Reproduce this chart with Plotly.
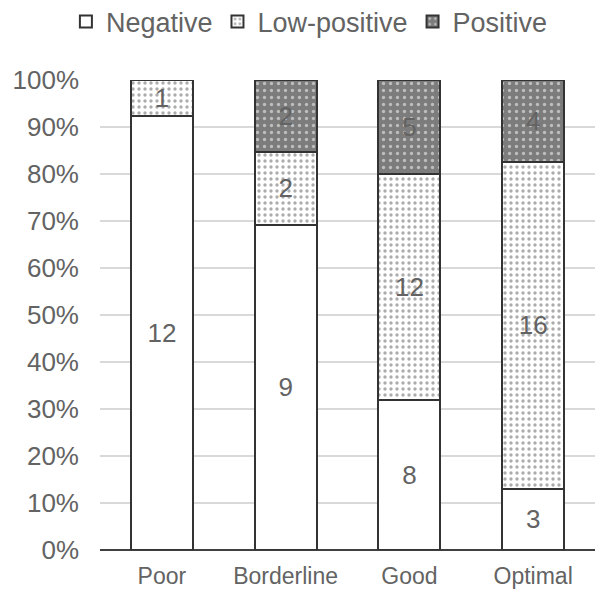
import plotly.graph_objects as go

categories = ["Poor", "Borderline", "Good", "Optimal"]
negative = [12, 9, 8, 3]
low_positive = [1, 2, 12, 16]
positive = [0, 2, 5, 4]

tick_vals = [0, 10, 20, 30, 40, 50, 60, 70, 80, 90, 100]
tick_text = [f"{v}%" for v in tick_vals]

text_color = "#636363"
font_family = "Liberation Sans, Arial, sans-serif"
edge = dict(color="#333333", width=2)


def labels(vals):
    return [str(v) if v > 0 else "" for v in vals]


fig = go.Figure()
fig.add_trace(go.Bar(
    name="Negative", x=categories, y=negative, text=labels(negative),
    marker=dict(color="white", line=edge),
))
fig.add_trace(go.Bar(
    name="Low-positive", x=categories, y=low_positive, text=labels(low_positive),
    marker=dict(color="white", line=edge,
                pattern=dict(shape=".", bgcolor="white", fgcolor="#5a5a5a",
                             size=6, solidity=0.25)),
))
fig.add_trace(go.Bar(
    name="Positive", x=categories, y=positive, text=labels(positive),
    marker=dict(color="#7c7c7c", line=edge,
                pattern=dict(shape=".", bgcolor="#7c7c7c", fgcolor="white",
                             size=7, solidity=0.18)),
))

fig.update_traces(
    textposition="inside", insidetextanchor="middle",
    textfont=dict(size=26, color=text_color, family=font_family),
    textangle=0, hoverinfo="skip",
)

fig.update_layout(
    width=595, height=592,
    barmode="stack", barnorm="percent", bargap=0.5,
    margin=dict(l=100, r=0, t=80, b=42),
    paper_bgcolor="white", plot_bgcolor="white",
    font=dict(family=font_family, color=text_color),
    uniformtext=dict(minsize=10, mode="show"),
    legend=dict(orientation="h", xref="container", x=0.52, xanchor="center",
                yref="container", y=0.963, yanchor="middle",
                font=dict(size=27, color=text_color),
                itemwidth=30, traceorder="normal", itemsizing="constant"),
    xaxis=dict(showgrid=False, ticks="", tickfont=dict(size=23, color=text_color),
               showline=False, ticklabelstandoff=10),
    yaxis=dict(range=[0, 100], tickvals=tick_vals, ticktext=tick_text,
               tickfont=dict(size=26, color=text_color),
               showgrid=True, gridcolor="#d9d9d9", gridwidth=1.5,
               zeroline=True, zerolinecolor="#404040", zerolinewidth=2,
               ticks="", ticklabelstandoff=20),
)

fig.write_html("out.html")
